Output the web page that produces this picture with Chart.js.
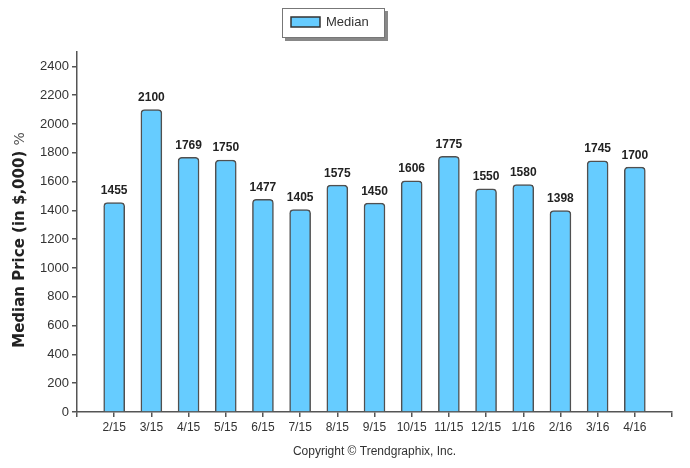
<!DOCTYPE html>
<html>
<head>
<meta charset="utf-8">
<script src="https://cdn.jsdelivr.net/npm/chart.js@4/dist/chart.umd.min.js"></script>
<style>
  html, body { margin: 0; padding: 0; background: #fff; }
  #wrap { width: 690px; height: 468px; position: relative; }
</style>
</head>
<body>
<div id="wrap"><canvas id="median-chart" width="690" height="468"></canvas></div>
<script>
// months shown on the x axis (empty slots pad the axis at both ends)
var months = ['2/15', '3/15', '4/15', '5/15', '6/15', '7/15', '8/15', '9/15',
  '10/15', '11/15', '12/15', '1/16', '2/16', '3/16', '4/16'];
var medianPrice = [1455, 2100, 1769, 1750, 1477, 1405, 1575, 1450,
  1606, 1775, 1550, 1580, 1398, 1745, 1700];
var yTicks = [0, 200, 400, 600, 800, 1000, 1200, 1400, 1600, 1800, 2000, 2200, 2400];

var labels = [''].concat(months, ['']);
var values = [null].concat(medianPrice, [null]);

var FILL = '#66ccff';
var EDGE = '#505050';
var AXIS = '#555555';
var FONT = "'DejaVu Sans', sans-serif";
var TICKFONT = "'Liberation Sans', Arial, sans-serif";

// value labels above bars, custom legend, y title, copyright
var extras = {
  id: 'extras',
  afterDatasetsDraw: function (chart) {
    var ctx = chart.ctx;
    var meta = chart.getDatasetMeta(0);
    ctx.save();
    ctx.font = 'bold 12px ' + TICKFONT;
    ctx.fillStyle = '#222';
    ctx.textAlign = 'center';
    ctx.textBaseline = 'bottom';
    meta.data.forEach(function (bar, i) {
      var v = values[i];
      if (v === null) return;
      ctx.fillText(String(v), bar.x, bar.y - 6);
    });
    ctx.restore();
  },
  afterDraw: function (chart) {
    var ctx = chart.ctx;
    ctx.save();
    // legend box with shadow
    ctx.fillStyle = '#888';
    ctx.fillRect(285, 11, 103, 30);
    ctx.fillStyle = '#fff';
    ctx.fillRect(282, 8, 103, 30);
    ctx.strokeStyle = '#777';
    ctx.lineWidth = 1;
    ctx.strokeRect(282.5, 8.5, 102, 29);
    ctx.fillStyle = FILL;
    ctx.fillRect(291, 17, 29, 10);
    ctx.strokeStyle = '#333';
    ctx.lineWidth = 1.5;
    ctx.strokeRect(291, 17, 29, 10);
    ctx.fillStyle = '#333';
    ctx.font = '13px ' + TICKFONT;
    ctx.textAlign = 'left';
    ctx.textBaseline = 'middle';
    ctx.fillText(chart.data.datasets[0].label, 326, 22);

    // y axis title
    ctx.translate(20, (chart.chartArea.top + chart.chartArea.bottom) / 2 + 8);
    ctx.rotate(-Math.PI / 2);
    var main = 'Median Price (in $,000) ';
    ctx.font = 'bold 15px ' + FONT;
    var w1 = ctx.measureText(main).width;
    ctx.font = '14px ' + FONT;
    var w2 = ctx.measureText('%').width;
    var x0 = -(w1 + w2) / 2;
    ctx.fillStyle = '#222';
    ctx.font = 'bold 15px ' + FONT;
    ctx.fillText(main, x0, 0);
    ctx.fillStyle = '#555';
    ctx.font = '14px ' + FONT;
    ctx.fillText('%', x0 + w1, 0);
    ctx.restore();

    ctx.save();
    ctx.fillStyle = '#333';
    ctx.font = '12px ' + TICKFONT;
    ctx.textAlign = 'center';
    ctx.textBaseline = 'middle';
    ctx.fillText('Copyright \u00a9 Trendgraphix, Inc.', (chart.chartArea.left + chart.chartArea.right) / 2, 452);
    ctx.restore();
  }
};

var chart = new Chart(document.getElementById('median-chart').getContext('2d'), {
  type: 'bar',
  data: {
    labels: labels,
    datasets: [{
      label: 'Median',
      data: values,
      backgroundColor: FILL,
      borderColor: EDGE,
      borderWidth: 1.5,
      borderSkipped: 'bottom',
      borderRadius: { topLeft: 4, topRight: 4 },
      barThickness: 21
    }]
  },
  options: {
    responsive: false,
    animation: false,
    layout: { padding: { top: 52, right: 18, left: 0, bottom: 0 } },
    plugins: {
      legend: { display: false },
      tooltip: { enabled: false }
    },
    scales: {
      x: {
        offset: false,
        grid: { display: true, offset: false, drawOnChartArea: false, drawTicks: true, tickLength: 5, color: AXIS, lineWidth: 1.5 },
        border: { color: AXIS, width: 1.5 },
        ticks: { color: '#333', font: { family: TICKFONT, size: 12 }, padding: 3, maxRotation: 0, autoSkip: false },
        afterFit: function (scale) { scale.height = 56; }
      },
      y: {
        min: 0,
        max: 2500,
        grid: { display: true, drawOnChartArea: false, drawTicks: true, tickLength: 5, color: AXIS, lineWidth: 1.5 },
        border: { color: AXIS, width: 1.5 },
        ticks: {
          autoSkip: false, color: '#333', font: { family: TICKFONT, size: 13 }, padding: 3,
          callback: function (v) { return String(v); }
        },
        afterBuildTicks: function (scale) {
          scale.ticks = yTicks.map(function (v) { return { value: v }; });
        },
        afterFit: function (scale) { scale.width = 77; }
      }
    }
  },
  plugins: [extras]
});
</script>
</body>
</html>
